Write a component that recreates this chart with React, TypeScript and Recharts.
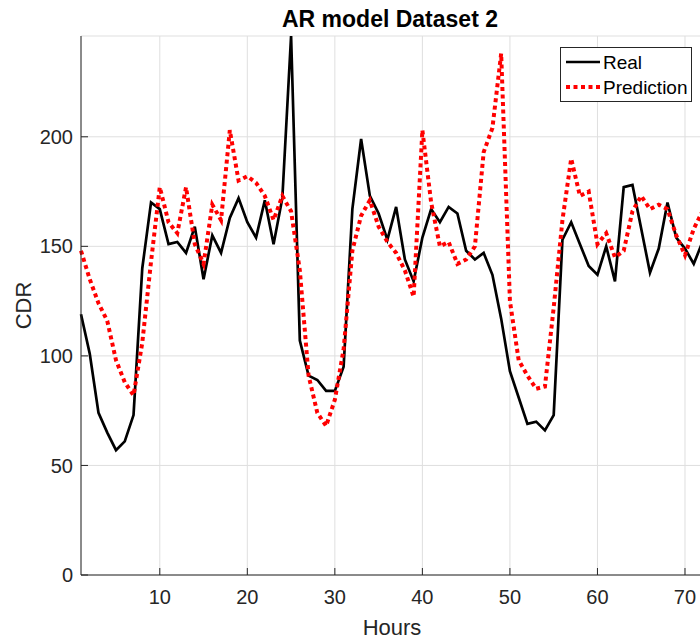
import React from 'react';
import { LineChart, Line, XAxis, YAxis, CartesianGrid } from 'recharts';

const HOURS = [
  1, 2, 3, 4, 5, 6, 7, 8, 9, 10, 11, 12, 13, 14, 15, 16, 17, 18, 19, 20, 21, 22, 23, 24,
  25, 26, 27, 28, 29, 30, 31, 32, 33, 34, 35, 36, 37, 38, 39, 40, 41, 42, 43, 44, 45, 46, 47, 48,
  49, 50, 51, 52, 53, 54, 55, 56, 57, 58, 59, 60, 61, 62, 63, 64, 65, 66, 67, 68, 69, 70, 71, 72,
];

const REAL = [
  119, 101, 74, 65, 57, 61, 73, 140, 170, 167, 151, 152, 147, 159, 135, 155, 147, 163, 172, 161, 154, 171, 151, 172,
  246, 107, 91, 89, 84, 84, 95, 167, 199, 173, 165, 153, 168, 144, 134, 154, 167, 161, 168, 165, 148, 144, 147, 137,
  117, 93, 81, 69, 70, 66, 73, 153, 161, 151, 141, 137, 150, 134, 177, 178, 158, 138, 149, 170, 154, 149, 142, 152,
];

const PREDICTION = [
  148, 135, 124, 116, 98, 88, 82, 106, 143, 177, 161, 156, 177, 151, 142, 169, 162, 203, 180, 182, 179, 173, 162, 173,
  166, 139, 91, 74, 68, 80, 103, 148, 164, 171, 159, 152, 147, 139, 127, 203, 170, 150, 152, 142, 144, 150, 193, 204,
  238, 125, 98, 91, 85, 86, 122, 162, 190, 173, 175, 151, 156, 145, 148, 166, 173, 167, 169, 167, 155, 146, 158, 166,
];

const X_TICKS = [10, 20, 30, 40, 50, 60, 70];
const Y_TICKS = [0, 50, 100, 150, 200];

const data = HOURS.map((h, i) => ({ hour: h, real: REAL[i], prediction: PREDICTION[i] }));

const FONT = '"Liberation Sans", Arial, Helvetica, sans-serif';
const INK = '#262626';

const tickStyle = { fill: INK, fontSize: 20, fontFamily: FONT };

const LegendBox = () => (
  <div
    style={{
      position: 'absolute',
      left: 560,
      top: 47,
      width: 132,
      height: 55,
      boxSizing: 'border-box',
      border: `1px solid ${INK}`,
      background: '#fff',
      fontFamily: FONT,
      fontSize: 19,
      color: '#000',
    }}
  >
    <svg width={132} height={55} style={{ position: 'absolute', left: -1, top: -1 }}>
      <line x1={6} x2={40} y1={15} y2={15} stroke="#000" strokeWidth={2.7} />
      <line x1={6} x2={40} y1={40} y2={40} stroke="#ff0000" strokeWidth={4} strokeDasharray="4 3.5" />
      <text x={43} y={21.5} fontSize={19} fontFamily={FONT} fill="#000">Real</text>
      <text x={43} y={46.5} fontSize={19} fontFamily={FONT} fill="#000">Prediction</text>
    </svg>
  </div>
);

export default function App() {
  return (
    <div
      style={{
        position: 'fixed',
        left: 0,
        top: 0,
        width: 700,
        height: 641,
        overflow: 'hidden',
        background: '#fff',
      }}
    >
      <LineChart width={720} height={641} data={data} margin={{ top: 36, right: 17.5, bottom: 0, left: 0 }}>
        <CartesianGrid stroke="#dfdfdf" />
        <XAxis
          dataKey="hour"
          type="number"
          domain={[1, 72]}
          ticks={X_TICKS}
          height={66}
          tickSize={-7}
          tickMargin={22}
          axisLine={{ stroke: INK }}
          tickLine={{ stroke: INK }}
          tick={tickStyle}
        />
        <XAxis
          xAxisId="top"
          orientation="top"
          dataKey="hour"
          type="number"
          domain={[1, 72]}
          ticks={X_TICKS}
          height={0}
          tickSize={-7}
          axisLine={{ stroke: INK }}
          tickLine={{ stroke: INK }}
          tick={false}
        />
        <YAxis
          type="number"
          domain={[0, 246]}
          ticks={Y_TICKS}
          width={81}
          tickSize={-7}
          tickMargin={15}
          allowDataOverflow
          axisLine={{ stroke: INK }}
          tickLine={{ stroke: INK }}
          tick={tickStyle}
        />
        <YAxis
          yAxisId="right"
          orientation="right"
          type="number"
          domain={[0, 246]}
          ticks={Y_TICKS}
          width={0}
          tickSize={-7}
          axisLine={{ stroke: INK }}
          tickLine={{ stroke: INK }}
          tick={false}
        />
        <Line
          dataKey="real"
          stroke="#000"
          strokeWidth={2.7}
          dot={false}
          isAnimationActive={false}
        />
        <Line
          dataKey="prediction"
          stroke="#ff0000"
          strokeWidth={4}
          strokeDasharray="4 3.5"
          dot={false}
          isAnimationActive={false}
        />
      </LineChart>
      <svg
        width={700}
        height={641}
        style={{ position: 'absolute', left: 0, top: 0, pointerEvents: 'none' }}
      >
        <text x={390} y={27} textAnchor="middle" fontFamily={FONT} fontSize={23} fontWeight="bold" fill="#000">
          AR model Dataset 2
        </text>
        <text x={392} y={635} textAnchor="middle" fontFamily={FONT} fontSize={22} fill={INK}>
          Hours
        </text>
        <text
          x={0}
          y={0}
          transform="translate(31 305.5) rotate(-90)"
          textAnchor="middle"
          fontFamily={FONT}
          fontSize={22}
          fill={INK}
        >
          CDR
        </text>
      </svg>
      <LegendBox />
    </div>
  );
}
